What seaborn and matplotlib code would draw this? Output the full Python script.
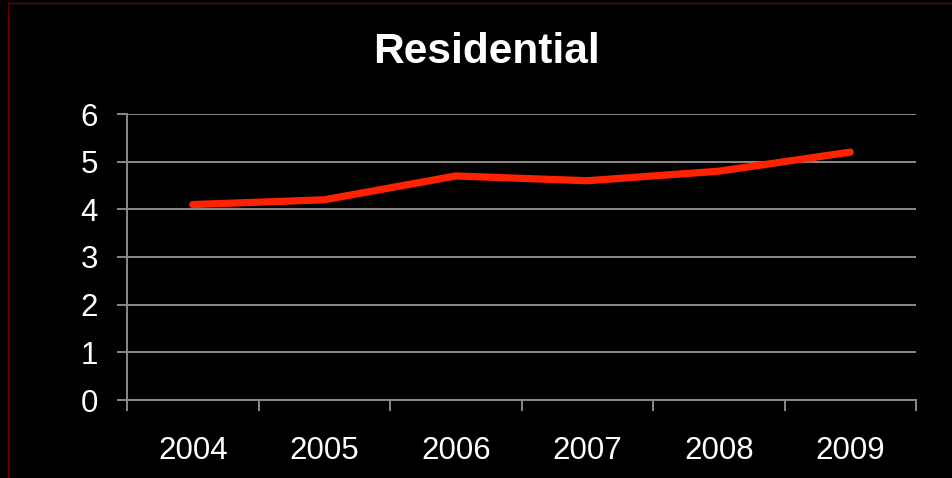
import numpy as np
import pandas as pd
import seaborn as sns
from matplotlib import pyplot as plt
from matplotlib.lines import Line2D

# chart data
years = ['2004', '2005', '2006', '2007', '2008', '2009']
values = [4.1, 4.2, 4.7, 4.6, 4.8, 5.2]
y_ticks = [0, 1, 2, 3, 4, 5, 6]

df = pd.DataFrame({'year': years, 'value': values})

sns.set_style('dark')
plt.rcParams['font.family'] = ['Liberation Sans', 'DejaVu Sans']

grid_col = '#8a8a8a'
fig = plt.figure(figsize=(9.53, 4.78), dpi=100, facecolor='black')
ax = fig.add_axes([127 / 953, 1 - 400 / 478, (916 - 127) / 953, (400 - 114) / 478])
ax.set_facecolor('black')

sns.lineplot(data=df, x='year', y='value', ax=ax, color='#ff2200',
             linewidth=5.2, solid_capstyle='round', solid_joinstyle='round')

ax.set_xlim(-0.5, len(years) - 0.5)
ax.set_ylim(0, 6)
ax.set_yticks(y_ticks)
ax.yaxis.grid(True, color=grid_col, linewidth=1.4)
ax.xaxis.grid(False)

# ticks between categories
ax.set_xticks(np.arange(-0.5, len(years), 1.0), minor=True)
ax.tick_params(axis='both', which='both', bottom=True, left=True)
ax.tick_params(axis='x', which='major', length=0, pad=26, labelsize=22.5, labelcolor='white')
ax.tick_params(axis='x', which='minor', length=8, width=1.4, color=grid_col, direction='out')
ax.tick_params(axis='y', which='major', length=7, width=1.4, color=grid_col, direction='out',
               pad=14, labelsize=22.5, labelcolor='white')

for side in ['top', 'right']:
    ax.spines[side].set_visible(False)
for side in ['left', 'bottom']:
    ax.spines[side].set_visible(True)
    ax.spines[side].set_color(grid_col)
    ax.spines[side].set_linewidth(1.4)

ax.set_xlabel('')
ax.set_ylabel('')

fig.text(0.5 + 10 / 953, 1 - 52 / 478, 'Residential', color='white', fontsize=30.5,
         fontweight='bold', ha='center', va='center')

# thin dark red frame on the slide edge
fig.add_artist(Line2D([8 / 953, 8 / 953], [0, 1 - 3 / 478], color='#700000', linewidth=1))
fig.add_artist(Line2D([8 / 953, 1], [1 - 3 / 478, 1 - 3 / 478], color='#700000', linewidth=1))

fig.savefig('out.png', dpi=100, facecolor='black')
